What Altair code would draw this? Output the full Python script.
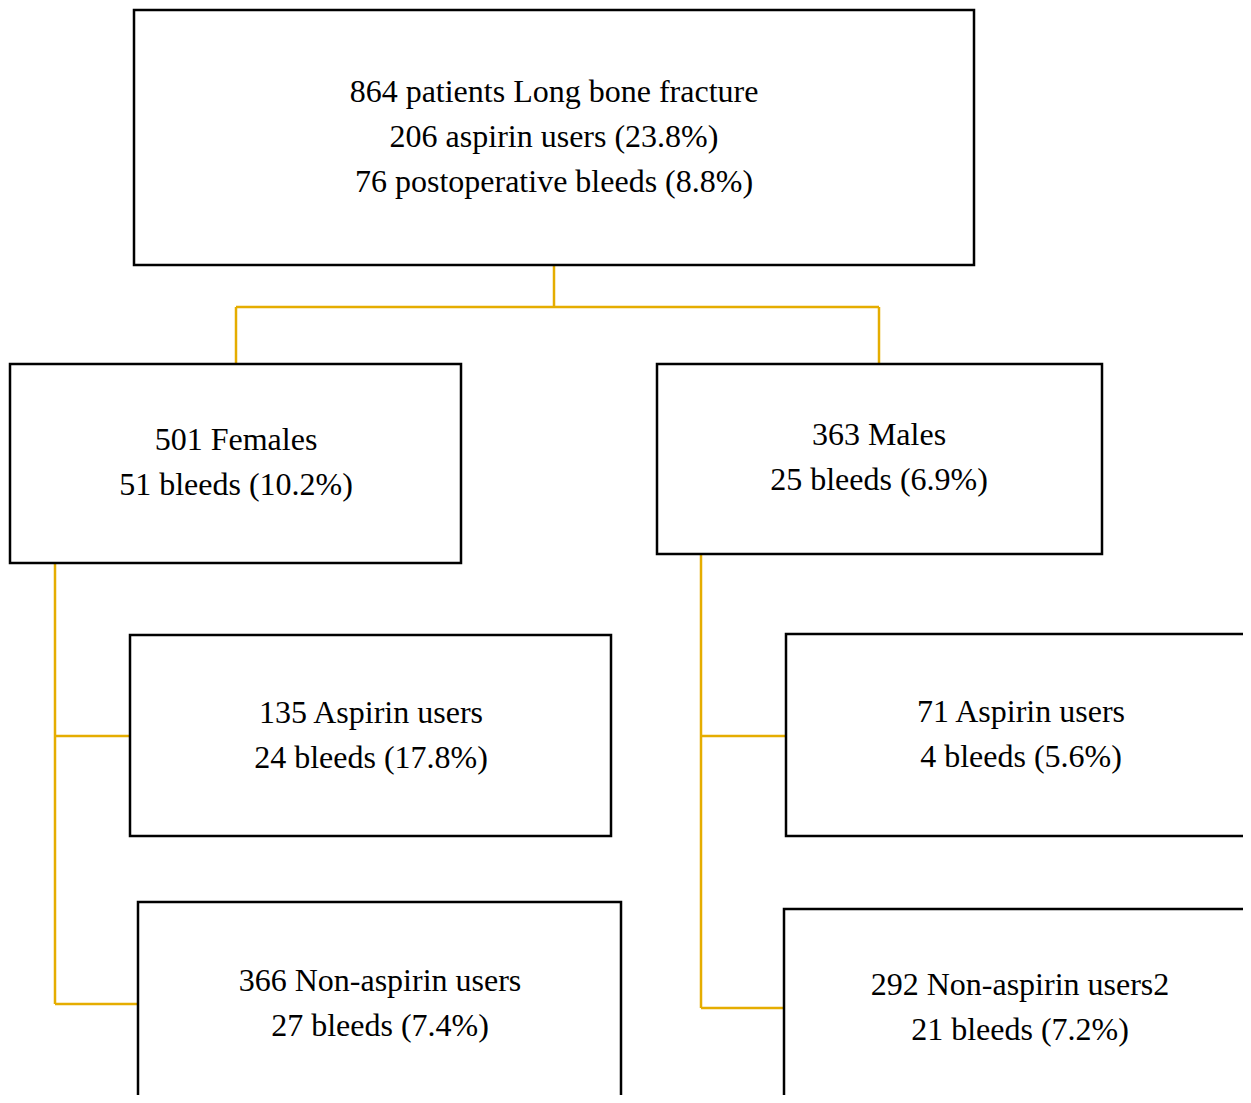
import altair as alt
import pandas as pd

# Box labels (two or three lines each)
box_labels = [
    ["864 patients Long bone fracture", "206 aspirin users (23.8%)", "76 postoperative bleeds (8.8%)"],
    ["501 Females", "51 bleeds (10.2%)"],
    ["363 Males", "25 bleeds (6.9%)"],
    ["135 Aspirin users", "24 bleeds (17.8%)"],
    ["366 Non-aspirin users", "27 bleeds (7.4%)"],
    ["71 Aspirin users", "4 bleeds (5.6%)"],
    ["292 Non-aspirin users2", "21 bleeds (7.2%)"],
]
# Box geometry (pixel layout)
box_x1 = [134, 10, 657, 130, 138, 786, 784]
box_x2 = [974, 461, 1102, 611, 621, 1270, 1270]
box_y1 = [10, 364, 364, 635, 902, 634, 909]
box_y2 = [265, 563, 554, 836, 1120, 836, 1120]
text_cx = [554, 236, 879, 371, 380, 1021, 1020]
text_y0 = [92, 440, 435, 713, 981, 712, 985]
line_gap = 45

# Connector segments (pixel layout)
seg_x1 = [554, 236, 236, 879, 55, 55, 55, 701, 701, 701]
seg_x2 = [554, 879, 236, 879, 55, 130, 138, 701, 786, 784]
seg_y1 = [265, 307, 307, 307, 563, 736, 1004, 554, 736, 1008]
seg_y2 = [307, 307, 364, 364, 1004, 736, 1004, 1008, 736, 1008]

boxes = pd.DataFrame({"x1": box_x1, "x2": box_x2, "y1": box_y1, "y2": box_y2})
segs = pd.DataFrame({"x1": seg_x1, "x2": seg_x2, "y1": seg_y1, "y2": seg_y2})
rows = []
for lines, cx, y0 in zip(box_labels, text_cx, text_y0):
    for i, t in enumerate(lines):
        rows.append({"x": cx, "y": y0 + i * line_gap, "t": t})
texts = pd.DataFrame(rows)

xs = alt.Scale(domain=[8, 1243], nice=False, zero=False)
ys = alt.Scale(domain=[8, 1095], nice=False, zero=False, reverse=True)

lines_layer = alt.Chart(segs).mark_rule(color="#E5AD00", strokeWidth=2.5, clip=True).encode(
    x=alt.X("x1:Q", scale=xs, axis=None), x2="x2:Q",
    y=alt.Y("y1:Q", scale=ys, axis=None), y2="y2:Q",
)
box_layer = alt.Chart(boxes).mark_rect(fill="white", stroke="black", strokeWidth=2.5, clip=True).encode(
    x=alt.X("x1:Q", scale=xs, axis=None), x2="x2:Q",
    y=alt.Y("y1:Q", scale=ys, axis=None), y2="y2:Q",
)
text_layer = alt.Chart(texts).mark_text(
    font="Liberation Serif", fontSize=32, color="black", baseline="middle", align="center"
).encode(
    x=alt.X("x:Q", scale=xs, axis=None),
    y=alt.Y("y:Q", scale=ys, axis=None),
    text="t:N",
)

chart = alt.layer(lines_layer, box_layer, text_layer).properties(
    width=1235, height=1087, padding=0, autosize=alt.AutoSizeParams(type="none")
).configure_view(stroke=None)

chart.save("out.html", embed_options={"renderer": "svg", "actions": False})
